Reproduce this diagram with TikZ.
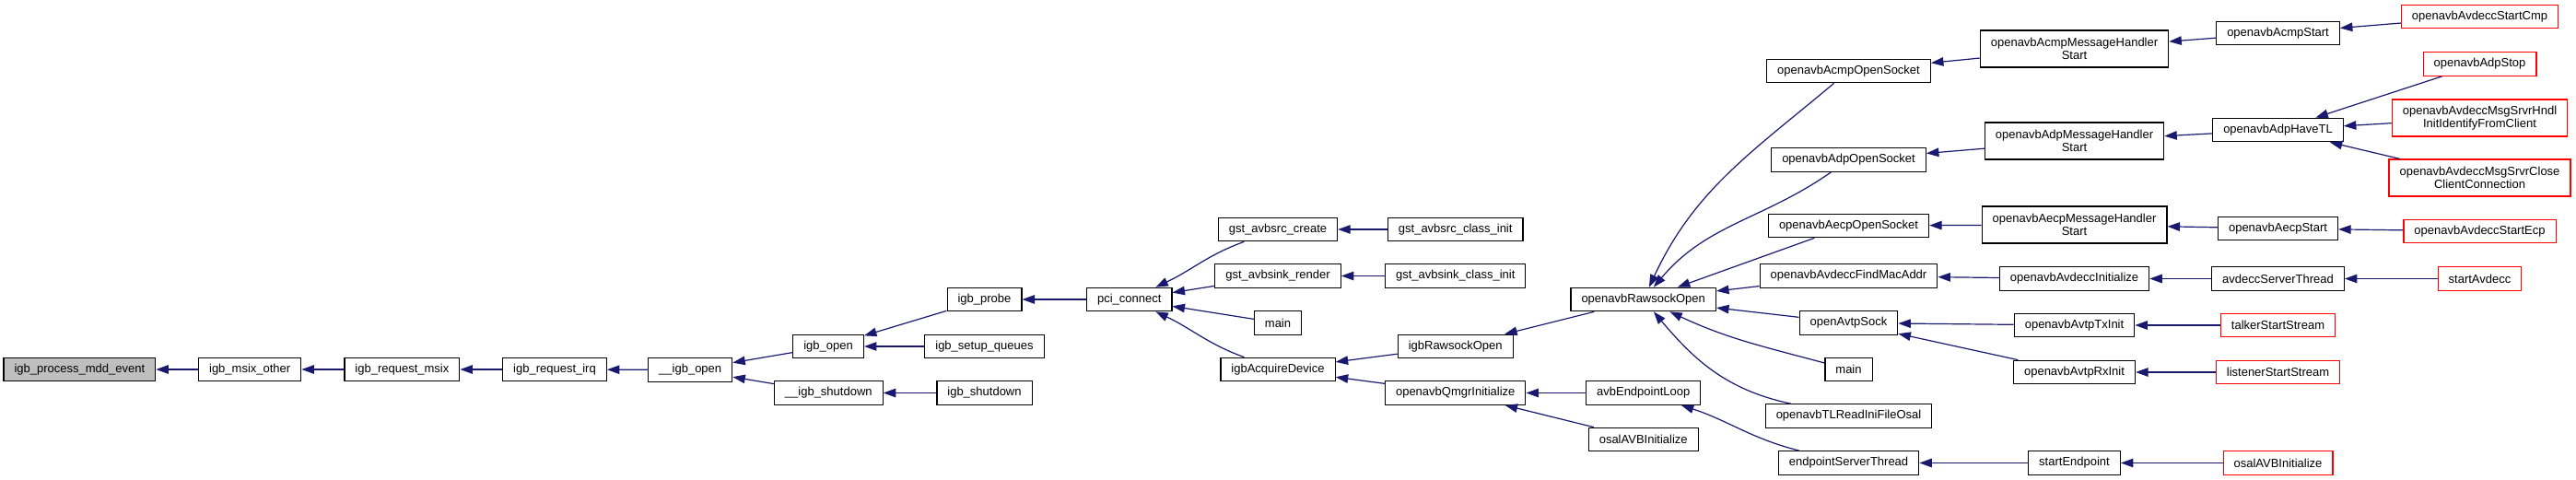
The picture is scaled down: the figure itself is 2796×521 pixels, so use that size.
\documentclass[tikz,border=0pt]{standalone}
\usepackage{fontspec}
\setmainfont{Liberation Sans}
\usepackage{tikz}
\usetikzlibrary{
    arrows.meta
}
\definecolor{edgeblue}{HTML}{191970}
\definecolor{rootgrey}{HTML}{BFBFBF}
\tikzset{
    fn/.style={draw=black,line width=1.2pt,fill=white,inner xsep=11.5pt,inner ysep=0pt,
        minimum height=25.5pt,align=center,font=\fontsize{13}{14.5}\selectfont},
    fntwo/.style={fn,minimum height=40pt},
    fnred/.style={draw=red},
    fnroot/.style={fill=rootgrey},
    call/.style={draw=edgeblue,line width=1.2pt,-{Triangle[length=13.5pt,width=9.5pt]}}
}

\begin{document}
\begin{tikzpicture}[x=1pt,y=1pt]
%\draw [help lines](0,0) grid (2796,-521);
\useasboundingbox (0,0) rectangle (2796,-521);
\node [fn,fnroot] (mdd) at (86.4,-401) {igb\_process\_mdd\_event};
\node [fn] (msixother) at (271.2,-401) {igb\_msix\_other};
\node [fn] (reqmsix) at (436.4,-401) {igb\_request\_msix};
\node [fn] (reqirq) at (602,-401) {igb\_request\_irq};
\node [fn] (igbopenu) at (749.2,-401.5) {\_\_igb\_open};
\node [fn] (igbopen) at (899.1,-376) {igb\_open};
\node [fn] (igbshutdownu) at (899.3,-426.5) {\_\_igb\_shutdown};
\node [fn] (igbprobe) at (1068.5,-325) {igb\_probe};
\node [fn] (setupqueues) at (1068.5,-376) {igb\_setup\_queues};
\node [fn] (igbshutdown) at (1068.5,-426.5) {igb\_shutdown};
\node [fn] (pciconnect) at (1225.7,-325) {pci\_connect};
\node [fn] (avbsrccreate) at (1387,-249) {gst\_avbsrc\_create};
\node [fn] (avbsinkrender) at (1387,-299.5) {gst\_avbsink\_render};
\node [fn] (mainA) at (1387,-350.5) {main};
\node [fn] (acquiredevice) at (1387,-401) {igbAcquireDevice};
\node [fn] (avbsrcclassinit) at (1579.7,-249) {gst\_avbsrc\_class\_init};
\node [fn] (avbsinkclassinit) at (1579.7,-299.5) {gst\_avbsink\_class\_init};
\node [fn] (igbrawsockopen) at (1579.7,-376) {igbRawsockOpen};
\node [fn] (qmgrinit) at (1579.7,-426.5) {openavbQmgrInitialize};
\node [fn] (rawsockopen) at (1783.7,-325) {openavbRawsockOpen};
\node [fn] (endpointloop) at (1783.7,-426.5) {avbEndpointLoop};
\node [fn] (osalinitA) at (1783.7,-477) {osalAVBInitialize};
\node [fn] (acmpopensocket) at (2006.5,-77) {openavbAcmpOpenSocket};
\node [fn] (adpopensocket) at (2006.5,-173.5) {openavbAdpOpenSocket};
\node [fn] (aecpopensocket) at (2006.5,-245) {openavbAecpOpenSocket};
\node [fn] (findmacaddr) at (2006.5,-299.5) {openavbAvdeccFindMacAddr};
\node [fn] (openavtpsock) at (2006.5,-350.5) {openAvtpSock};
\node [fn] (mainB) at (2006.5,-401) {main};
\node [fn] (tlreadini) at (2006.5,-451.5) {openavbTLReadIniFileOsal};
\node [fn] (endpointserver) at (2006.5,-502.5) {endpointServerThread};
\node [fntwo] (acmphandler) at (2251.5,-53) {openavbAcmpMessageHandler\\Start};
\node [fntwo] (adphandler) at (2251.5,-153) {openavbAdpMessageHandler\\Start};
\node [fntwo] (aecphandler) at (2251.5,-244) {openavbAecpMessageHandler\\Start};
\node [fn] (avdeccinit) at (2251.5,-302.5) {openavbAvdeccInitialize};
\node [fn] (txinit) at (2251.5,-353) {openavbAvtpTxInit};
\node [fn] (rxinit) at (2251.5,-404) {openavbAvtpRxInit};
\node [fn] (startendpoint) at (2251.5,-502.5) {startEndpoint};
\node [fn] (acmpstart) at (2472.5,-36) {openavbAcmpStart};
\node [fn] (adphavetl) at (2472.5,-141) {openavbAdpHaveTL};
\node [fn] (aecpstart) at (2472.5,-248) {openavbAecpStart};
\node [fn] (avdeccserver) at (2472.5,-302.5) {avdeccServerThread};
\node [fn,fnred] (talker) at (2472.5,-353) {talkerStartStream};
\node [fn,fnred] (listener) at (2472.5,-404) {listenerStartStream};
\node [fn,fnred] (osalinitB) at (2472.5,-502.5) {osalAVBInitialize};
\node [fn,fnred] (startcmp) at (2691.5,-18) {openavbAvdeccStartCmp};
\node [fn,fnred] (adpstop) at (2691.5,-69.5) {openavbAdpStop};
\node [fntwo,fnred] (hndlidentify) at (2691.5,-128) {openavbAvdeccMsgSrvrHndl\\InitIdentifyFromClient};
\node [fntwo,fnred] (closeclient) at (2691.5,-193) {openavbAvdeccMsgSrvrClose\\ClientConnection};
\node [fn,fnred] (startecp) at (2691.5,-251) {openavbAvdeccStartEcp};
\node [fn,fnred] (startavdecc) at (2691.5,-302.5) {startAvdecc};
% calls, caller -> callee
\draw [call] (msixother) -- (mdd);
\draw [call] (reqmsix) -- (msixother);
\draw [call] (reqirq) -- (reqmsix);
\draw [call] (igbopenu) -- (reqirq);
\draw [call] (igbopen) -- (igbopenu);
\draw [call] (igbshutdownu) -- (igbopenu);
\draw [call] (igbprobe) -- (igbopen);
\draw [call] (setupqueues) -- (igbopen);
\draw [call] (igbshutdown) -- (igbshutdownu);
\draw [call] (pciconnect) -- (igbprobe);
\draw [call] (avbsrccreate) to[out=-160,in=25] (pciconnect);
\draw [call] (avbsinkrender) -- (pciconnect);
\draw [call] (mainA) -- (pciconnect);
\draw [call] (acquiredevice) to[out=160,in=-25] (pciconnect);
\draw [call] (avbsrcclassinit) -- (avbsrccreate);
\draw [call] (avbsinkclassinit) -- (avbsinkrender);
\draw [call] (igbrawsockopen) -- (acquiredevice);
\draw [call] (qmgrinit) -- (acquiredevice);
\draw [call] (rawsockopen) -- (igbrawsockopen);
\draw [call] (endpointloop) -- (qmgrinit);
\draw [call] (osalinitA) -- (qmgrinit);
\draw [call] (acmpopensocket) to[out=-140,in=65] (rawsockopen);
\draw [call] (adpopensocket) to[out=-145,in=50] (rawsockopen);
\draw [call] (aecpopensocket) -- (rawsockopen);
\draw [call] (findmacaddr) -- (rawsockopen);
\draw [call] (openavtpsock) -- (rawsockopen);
\draw [call] (mainB) to[out=165,in=-25] (rawsockopen);
\draw [call] (tlreadini) to[out=168,in=-50] (rawsockopen);
\draw [call] (endpointserver) to[out=166,in=-18] (endpointloop);
\draw [call] (acmphandler) -- (acmpopensocket);
\draw [call] (adphandler) -- (adpopensocket);
\draw [call] (aecphandler) -- (aecpopensocket);
\draw [call] (avdeccinit) -- (findmacaddr);
\draw [call] (txinit) -- (openavtpsock);
\draw [call] (rxinit) -- (openavtpsock);
\draw [call] (startendpoint) -- (endpointserver);
\draw [call] (acmpstart) -- (acmphandler);
\draw [call] (adphavetl) -- (adphandler);
\draw [call] (aecpstart) -- (aecphandler);
\draw [call] (avdeccserver) -- (avdeccinit);
\draw [call] (talker) -- (txinit);
\draw [call] (listener) -- (rxinit);
\draw [call] (osalinitB) -- (startendpoint);
\draw [call] (startcmp) -- (acmpstart);
\draw [call] (adpstop) -- (adphavetl);
\draw [call] (hndlidentify) -- (adphavetl);
\draw [call] (closeclient) -- (adphavetl);
\draw [call] (startecp) -- (aecpstart);
\draw [call] (startavdecc) -- (avdeccserver);
\end{tikzpicture}
\end{document}
